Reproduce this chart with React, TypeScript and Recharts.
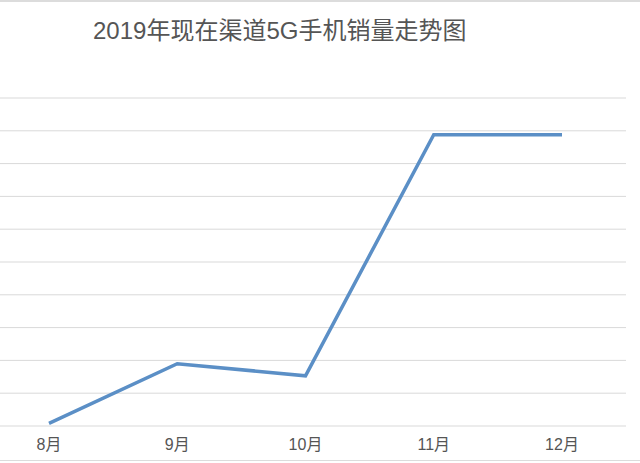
import React from 'react'
import { LineChart, Line, XAxis, YAxis, CartesianGrid } from 'recharts'

const months = ['8月', '9月', '10月', '11月', '12月']
const sales = [0.08, 1.9, 1.53, 8.88, 8.88]
const yTicks = [0, 1, 2, 3, 4, 5, 6, 7, 8, 9, 10]

const TITLE = '2019年现在渠道5G手机销量走势图'
const FONT = '"Liberation Sans", "Noto Sans CJK SC", sans-serif'
const LINE_COLOR = '#5b8fc6'

const chartData = months.map((m, i) => ({ month: m, sales: sales[i] }))

export default function App() {
  return (
    <div
      style={{
        position: 'absolute',
        left: 0,
        top: 0,
        width: 640,
        height: 463,
        overflow: 'hidden',
        background: '#fff',
        fontFamily: FONT,
      }}
    >
      {/* frame edges of the screenshot */}
      <div style={{ position: 'absolute', left: 0, top: 0, width: 640, height: 2, background: '#dcdcdc' }} />
      <div style={{ position: 'absolute', left: 0, top: 460, width: 640, height: 1, background: '#dcdcdc' }} />

      <svg width={640} height={60} style={{ position: 'absolute', left: 0, top: 0 }}>
        <text x={93} y={38.5} fontSize={24} fill="#555" fontFamily={FONT}>
          {TITLE}
        </text>
      </svg>

      <div style={{ position: 'absolute', left: -15, top: 0 }}>
        <LineChart
          width={641}
          height={463}
          data={chartData}
          margin={{ top: 98, right: 0, left: 0, bottom: 7 }}
        >
          <CartesianGrid vertical={false} stroke="#d9d9d9" strokeWidth={1} />
          <XAxis
            dataKey="month"
            axisLine={false}
            tickLine={false}
            tickSize={0}
            tickMargin={13}
            height={30}
            padding={{ left: 64, right: 64 }}
            tick={{ fontSize: 16, fill: '#555', fontFamily: FONT }}
            interval={0}
          />
          <YAxis hide domain={[0, 10]} ticks={yTicks} />
          <Line
            type="linear"
            dataKey="sales"
            stroke={LINE_COLOR}
            strokeWidth={3.5}
            dot={false}
            activeDot={false}
            isAnimationActive={false}
          />
        </LineChart>
      </div>
    </div>
  )
}
